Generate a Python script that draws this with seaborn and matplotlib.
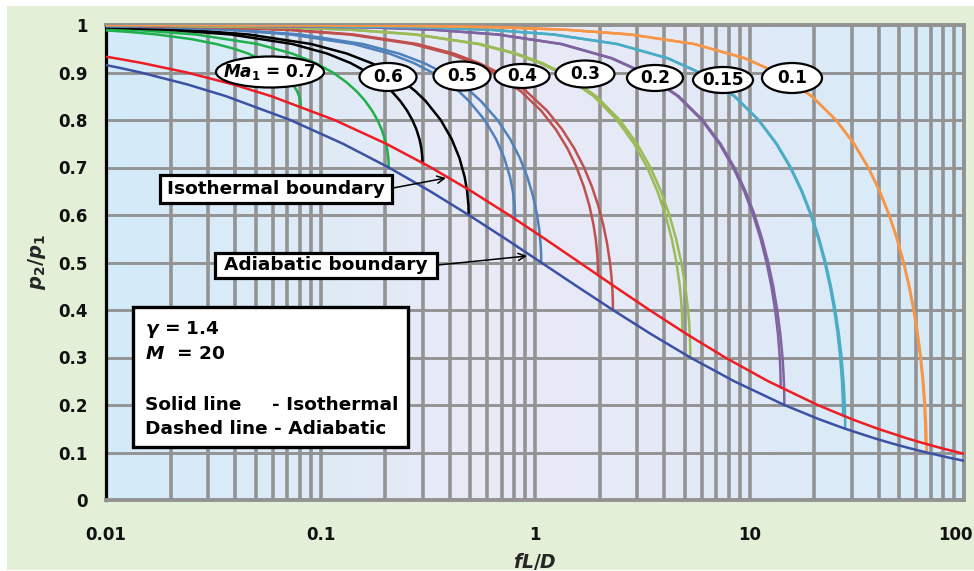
import numpy as np
import matplotlib
matplotlib.use("Agg")
import matplotlib.pyplot as plt
import matplotlib.transforms as mtransforms
import seaborn as sns
from matplotlib.patches import Ellipse, Rectangle
from matplotlib.ticker import LogLocator, NullFormatter
from matplotlib.colors import LinearSegmentedColormap

# ---------------- data ----------------
mach_labels = ["0.7", "0.6", "0.5", "0.4", "0.3", "0.2", "0.15", "0.1"]
curve_colors = ["#1fb04c", "#000000", "#4f81bd", "#c0504d", "#9bbb59", "#8064a2", "#4bacc6", "#f79646"]

iso_07_x = [0.00977, 0.01318, 0.01732, 0.02523, 0.03264, 0.03954, 0.04593, 0.05714, 0.06625, 0.07320, 0.07795, 0.07948, 0.08045, 0.08071, 0.08091]
iso_07_y = [0.989, 0.985, 0.98, 0.97, 0.96, 0.95, 0.94, 0.92, 0.90, 0.88, 0.86, 0.85, 0.84, 0.835, 0.828]
adi_07_x = [0.00672, 0.01333, 0.02624, 0.05079, 0.07363, 0.09474, 0.1141, 0.1317, 0.1476, 0.1616, 0.1738, 0.1842, 0.1928, 0.1995, 0.2043, 0.2072, 0.2081]
adi_07_y = [0.995, 0.99, 0.98, 0.96, 0.94, 0.92, 0.90, 0.88, 0.86, 0.84, 0.82, 0.80, 0.78, 0.76, 0.74, 0.72, 0.70]

iso_06_x = [0.00977, 0.01938, 0.03817, 0.07391, 0.1072, 0.1380, 0.1663, 0.1920, 0.2150, 0.2354, 0.2531, 0.2680, 0.2801, 0.2892, 0.2954, 0.2985, 0.2989]
iso_06_y = [0.995, 0.99, 0.98, 0.96, 0.94, 0.92, 0.90, 0.88, 0.86, 0.84, 0.82, 0.80, 0.78, 0.76, 0.74, 0.72, 0.71]
adi_06_x = [0.00943, 0.01178, 0.02342, 0.04631, 0.09046, 0.1324, 0.1722, 0.2098, 0.2451, 0.2781, 0.3089, 0.3635, 0.4087, 0.4443, 0.4700, 0.4826, 0.4895, 0.4908]
adi_06_y = [0.996, 0.995, 0.99, 0.98, 0.96, 0.94, 0.92, 0.90, 0.88, 0.86, 0.84, 0.80, 0.76, 0.72, 0.68, 0.65, 0.62, 0.60]

iso_05_x = [0.00926, 0.01848, 0.03676, 0.07274, 0.1424, 0.2088, 0.2721, 0.3321, 0.3889, 0.4424, 0.4924, 0.5823, 0.6580, 0.7190, 0.7647, 0.7884, 0.8028, 0.8069, 0.8073]
iso_05_y = [0.9975, 0.995, 0.99, 0.98, 0.96, 0.94, 0.92, 0.90, 0.88, 0.86, 0.84, 0.80, 0.76, 0.72, 0.68, 0.65, 0.62, 0.60, 0.5916]
adi_05_x = [0.00978, 0.02032, 0.04046, 0.08019, 0.1575, 0.2319, 0.3033, 0.3718, 0.4372, 0.4997, 0.5591, 0.6687, 0.7657, 0.8500, 0.9210, 0.9787, 1.0225, 1.0461, 1.0615, 1.0672, 1.0691]
adi_05_y = [0.9976, 0.995, 0.99, 0.98, 0.96, 0.94, 0.92, 0.90, 0.88, 0.86, 0.84, 0.80, 0.76, 0.72, 0.68, 0.64, 0.60, 0.57, 0.54, 0.52, 0.50]

iso_04_x = [0.00969, 0.01384, 0.03451, 0.06874, 0.1364, 0.2684, 0.3959, 0.5190, 0.6375, 0.8609, 1.0656, 1.2513, 1.4174, 1.5634, 1.6886, 1.7921, 1.8730, 1.9182, 1.9493, 1.9619, 1.9682]
iso_04_y = [0.9986, 0.998, 0.995, 0.99, 0.98, 0.96, 0.94, 0.92, 0.90, 0.86, 0.82, 0.78, 0.74, 0.70, 0.66, 0.62, 0.58, 0.55, 0.52, 0.50, 0.4733]
adi_04_x = [0.00980, 0.01451, 0.03621, 0.07215, 0.1432, 0.2823, 0.4171, 0.5476, 0.6738, 0.9133, 1.1351, 1.3392, 1.5251, 1.6926, 1.8411, 1.9703, 2.0796, 2.1684, 2.2362, 2.2727, 2.2967, 2.3056, 2.3085]
adi_04_y = [0.99865, 0.998, 0.995, 0.99, 0.98, 0.96, 0.94, 0.92, 0.90, 0.86, 0.82, 0.78, 0.74, 0.70, 0.66, 0.62, 0.58, 0.54, 0.50, 0.47, 0.44, 0.42, 0.40]

iso_03_x = [0.00998, 0.01386, 0.06914, 0.1378, 0.2739, 0.5406, 0.8001, 1.0523, 1.2972, 1.8773, 2.4109, 2.8969, 3.3343, 3.7218, 4.0577, 4.3400, 4.5661, 4.7324, 4.8016, 4.8462, 4.8615, 4.8650]
iso_03_y = [0.99928, 0.999, 0.995, 0.99, 0.98, 0.96, 0.94, 0.92, 0.90, 0.85, 0.80, 0.75, 0.70, 0.65, 0.60, 0.55, 0.50, 0.45, 0.42, 0.39, 0.37, 0.355]
adi_03_x = [0.00993, 0.01418, 0.07073, 0.1410, 0.2803, 0.5535, 0.8197, 1.0789, 1.3309, 1.9296, 2.4831, 2.9908, 3.4518, 3.8653, 4.2302, 4.5451, 4.8084, 5.0182, 5.1720, 5.2361, 5.2784, 5.2940, 5.2993]
adi_03_y = [0.9993, 0.999, 0.995, 0.99, 0.98, 0.96, 0.94, 0.92, 0.90, 0.85, 0.80, 0.75, 0.70, 0.65, 0.60, 0.55, 0.50, 0.45, 0.40, 0.37, 0.34, 0.32, 0.30]

iso_02_x = [0.00674, 0.01011, 0.03370, 0.1681, 0.3353, 0.6667, 1.3184, 2.2674, 3.1821, 4.6303, 5.9823, 7.2371, 8.3938, 9.4509, 10.407, 11.260, 12.007, 12.644, 13.167, 13.570, 13.842, 13.937, 13.968, 13.975]
iso_02_y = [0.9998, 0.9997, 0.999, 0.995, 0.99, 0.98, 0.96, 0.93, 0.90, 0.85, 0.80, 0.75, 0.70, 0.65, 0.60, 0.55, 0.50, 0.45, 0.40, 0.35, 0.30, 0.27, 0.25, 0.2366]
adi_02_x = [0.00680, 0.01020, 0.03400, 0.1696, 0.3383, 0.6728, 1.3306, 2.2892, 3.2138, 4.6794, 6.0499, 7.3246, 8.5028, 9.5833, 10.565, 11.446, 12.225, 12.899, 13.464, 13.917, 14.252, 14.393, 14.487, 14.522, 14.533]
adi_02_y = [0.9998, 0.9997, 0.999, 0.995, 0.99, 0.98, 0.96, 0.93, 0.90, 0.85, 0.80, 0.75, 0.70, 0.65, 0.60, 0.55, 0.50, 0.45, 0.40, 0.35, 0.30, 0.27, 0.24, 0.22, 0.20]

iso_015_x = [0.00615, 0.01230, 0.06146, 0.3066, 0.6116, 1.2167, 2.4072, 4.1437, 5.8210, 8.4845, 10.982, 13.314, 15.477, 17.472, 19.296, 20.947, 22.423, 23.720, 24.834, 25.757, 26.481, 26.989, 27.181, 27.257, 27.288]
iso_015_y = [0.9999, 0.9998, 0.999, 0.995, 0.99, 0.98, 0.96, 0.93, 0.90, 0.85, 0.80, 0.75, 0.70, 0.65, 0.60, 0.55, 0.50, 0.45, 0.40, 0.35, 0.30, 0.25, 0.22, 0.20, 0.1775]
adi_015_x = [0.00618, 0.01236, 0.06175, 0.3081, 0.6146, 1.2227, 2.4192, 4.1651, 5.8520, 8.5324, 11.048, 13.399, 15.583, 17.600, 19.449, 21.127, 22.633, 23.964, 25.116, 26.085, 26.863, 27.441, 27.686, 27.805, 27.885, 27.920, 27.932]
adi_015_y = [0.9999, 0.9998, 0.999, 0.995, 0.99, 0.98, 0.96, 0.93, 0.90, 0.85, 0.80, 0.75, 0.70, 0.65, 0.60, 0.55, 0.50, 0.45, 0.40, 0.35, 0.30, 0.25, 0.22, 0.20, 0.18, 0.165, 0.15]

iso_01_x = [0.00704, 0.01409, 0.07041, 0.2814, 0.7025, 1.4013, 2.7882, 5.5184, 9.5049, 13.361, 19.496, 25.268, 30.675, 35.715, 40.388, 44.693, 48.626, 52.185, 55.367, 58.167, 60.579, 62.592, 64.192, 65.353, 65.935, 66.096, 66.160]
iso_01_y = [0.99995, 0.9999, 0.9995, 0.998, 0.995, 0.99, 0.98, 0.96, 0.93, 0.90, 0.85, 0.80, 0.75, 0.70, 0.65, 0.60, 0.55, 0.50, 0.45, 0.40, 0.35, 0.30, 0.25, 0.20, 0.16, 0.14, 0.1183]
adi_01_x = [0.00706, 0.01411, 0.07055, 0.2820, 0.7039, 1.4042, 2.7940, 5.5302, 9.5259, 13.391, 19.543, 25.333, 30.758, 35.819, 40.514, 44.842, 48.801, 52.388, 55.602, 58.438, 60.891, 62.953, 64.613, 65.853, 66.521, 66.818, 66.895, 66.922]
adi_01_y = [0.99995, 0.9999, 0.9995, 0.998, 0.995, 0.99, 0.98, 0.96, 0.93, 0.90, 0.85, 0.80, 0.75, 0.70, 0.65, 0.60, 0.55, 0.50, 0.45, 0.40, 0.35, 0.30, 0.25, 0.20, 0.16, 0.13, 0.115, 0.10]

iso_bound_x = [0.009453, 0.011062, 0.014711, 0.023847, 0.039059, 0.059045, 0.116213, 0.202414, 0.327466, 0.505298, 0.756127, 1.110111, 1.613706, 2.341257, 3.417419, 5.063621, 7.703165, 12.227411, 20.781124, 30.058162, 39.650204, 54.091156, 64.203917, 77.230079, 94.39483, 105.095634]
iso_bound_y = [0.935, 0.93, 0.92, 0.9, 0.875, 0.85, 0.8, 0.75, 0.7, 0.65, 0.6, 0.55, 0.5, 0.45, 0.4, 0.35, 0.3, 0.25, 0.2, 0.17, 0.15, 0.13, 0.12, 0.11, 0.1, 0.095]
adi_bound_x = [0.008912, 0.011513, 0.01451, 0.023899, 0.036334, 0.07229, 0.127285, 0.20814, 0.324614, 0.49082, 0.728061, 1.06906, 1.566414, 2.30849, 3.452461, 5.29925, 8.483409, 14.53327, 21.11516, 27.93197, 38.207062, 45.408029, 54.687895, 66.92156, 83.496165, 94.078006, 106.7183]
adi_bound_y = [0.92, 0.91, 0.9, 0.875, 0.85, 0.8, 0.75, 0.7, 0.65, 0.6, 0.55, 0.5, 0.45, 0.4, 0.35, 0.3, 0.25, 0.2, 0.17, 0.15, 0.13, 0.12, 0.11, 0.1, 0.09, 0.085, 0.08]

x_tick_values = [0.01, 0.1, 1, 10, 100]
x_tick_labels = ["0.01", "0.1", "1", "10", "100"]
y_tick_values = [0, 0.1, 0.2, 0.3, 0.4, 0.5, 0.6, 0.7, 0.8, 0.9, 1.0]
y_tick_labels = ["0", "0.1", "0.2", "0.3", "0.4", "0.5", "0.6", "0.7", "0.8", "0.9", "1"]

iso_curves = [(iso_07_x, iso_07_y), (iso_06_x, iso_06_y), (iso_05_x, iso_05_y), (iso_04_x, iso_04_y),
              (iso_03_x, iso_03_y), (iso_02_x, iso_02_y), (iso_015_x, iso_015_y), (iso_01_x, iso_01_y)]
adi_curves = [(adi_07_x, adi_07_y), (adi_06_x, adi_06_y), (adi_05_x, adi_05_y), (adi_04_x, adi_04_y),
              (adi_03_x, adi_03_y), (adi_02_x, adi_02_y), (adi_015_x, adi_015_y), (adi_01_x, adi_01_y)]

# ---------------- styling ----------------
sns.set_theme(style="white")
plt.rcParams['font.family'] = ['DejaVu Sans']
plt.rcParams['mathtext.fontset'] = 'custom'
plt.rcParams['mathtext.it'] = 'DejaVu Sans:italic:bold'
plt.rcParams['mathtext.rm'] = 'DejaVu Sans:bold'
plt.rcParams['mathtext.bf'] = 'DejaVu Sans:bold'

W, H = 974, 571
fig = plt.figure(figsize=(W / 100, H / 100), dpi=100, facecolor='white')
fig.patches.append(Rectangle((7 / W, 1 / H), 1 - 7 / W, 1 - 7 / H, transform=fig.transFigure,
                             facecolor='#e3efd6', edgecolor='none', zorder=-10))
ax = fig.add_axes([106 / W, 71 / H, 858 / W, 475 / H])

# background gradient of the plotting area
bg_cmap = LinearSegmentedColormap.from_list(
    'bg', [(0.0, '#d3ebf9'), (0.45, '#e9eaf6'), (0.62, '#e6e9f6'), (1.0, '#d5ebf9')])
ax.imshow(np.linspace(0, 1, 256).reshape(1, -1), cmap=bg_cmap, aspect='auto',
          extent=[0, 1, 0, 1], transform=ax.transAxes, zorder=-1, interpolation='bilinear')

ax.set_xscale('log')

lw_curve = 1.8
for (xi, yi), (xa, ya), col in zip(iso_curves, adi_curves, curve_colors):
    sns.lineplot(x=xi, y=yi, ax=ax, color=col, lw=lw_curve, sort=False, estimator=None, zorder=3)
    sns.lineplot(x=xa, y=ya, ax=ax, color=col, lw=lw_curve, sort=False, estimator=None, zorder=3)

sns.lineplot(x=adi_bound_x, y=adi_bound_y, ax=ax, color='#3b52a4', lw=1.8, sort=False, estimator=None, zorder=4)
sns.lineplot(x=iso_bound_x, y=iso_bound_y, ax=ax, color='#ee1d23', lw=1.8, sort=False, estimator=None, zorder=4)

ax.set_xlim(0.01, 100)
ax.set_ylim(0, 1)
ax.set_xlabel('')
ax.set_ylabel('')

ax.set_xticks(x_tick_values)
ax.set_xticklabels(x_tick_labels)
ax.xaxis.set_minor_locator(LogLocator(base=10, subs=np.arange(2, 10)))
ax.xaxis.set_minor_formatter(NullFormatter())
ax.set_yticks(y_tick_values)
ax.set_yticklabels(y_tick_labels)

grid_col = '#939393'
ax.set_axisbelow(True)
ax.grid(which='both', axis='x', color=grid_col, lw=2.6)
ax.grid(which='major', axis='y', color=grid_col, lw=2.1)
ax.tick_params(which='both', length=0)
ax.tick_params(axis='x', pad=19, labelsize=12, labelcolor='#111111')
ax.tick_params(axis='y', pad=13, labelsize=12, labelcolor='#111111')
for lab in ax.get_xticklabels() + ax.get_yticklabels():
    lab.set_fontweight('bold')
# keep the last x label ("100") inside the picture
last_lab = ax.get_xticklabels()[-1]
last_lab.set_transform(last_lab.get_transform() +
                       mtransforms.ScaledTranslation(-0.09, 0, fig.dpi_scale_trans))

for side in ['top', 'right', 'bottom']:
    ax.spines[side].set_color(grid_col)
    ax.spines[side].set_linewidth(2.8)
ax.spines['left'].set_color('black')
ax.spines['left'].set_linewidth(2.3)

# axis titles
fig.text(37 / W, 1 - 262 / H, r'$p_2/p_1$', rotation=90, ha='center', va='center', fontsize=14)
fig.text(535 / W, 1 - 561 / H, r'$fL/D$', ha='center', va='center', fontsize=13.5)


def axpos(px, py):
    return ((px - 106) / 858, (500 - py) / 475)


# Mach number ellipses: (label, center px, width px, height px)
ellipse_specs = [
    (r'$Ma_1$ = 0.7', (270, 72), 108, 31),
    ('0.6', (388, 77), 57, 28),
    ('0.5', (462, 76), 57, 29),
    ('0.4', (522, 76), 55, 24),
    ('0.3', (585, 74), 59, 27),
    ('0.2', (655, 78), 56, 26),
    ('0.15', (723, 80), 60, 26),
    ('0.1', (792, 78), 60, 30),
]
for txt, (cx, cy), ew, eh in ellipse_specs:
    c = axpos(cx, cy)
    ax.add_patch(Ellipse(c, ew / 858, eh / 475, transform=ax.transAxes, facecolor='white',
                         edgecolor='black', lw=1.6, zorder=7, clip_on=False))
    ax.text(c[0], c[1], txt, transform=ax.transAxes, ha='center', va='center',
            fontsize=12.2, fontweight='bold', color='black', zorder=8)

# boundary labels with arrows
def boxed_label(txt, x0, y0, x1, y1):
    a = axpos(x0, y1)
    ax.add_patch(Rectangle(a, (x1 - x0) / 858, (y1 - y0) / 475, transform=ax.transAxes,
                           facecolor='white', edgecolor='black', lw=2.3, zorder=7))
    c = axpos((x0 + x1) / 2, (y0 + y1) / 2)
    ax.text(c[0], c[1], txt, transform=ax.transAxes, ha='center', va='center',
            fontsize=13.3, fontweight='bold', color='black', zorder=8)


boxed_label('Isothermal boundary', 160, 175, 392, 203)
boxed_label('Adiabatic boundary', 215, 253, 437, 278)
ax.annotate('', xy=axpos(446, 178), xytext=axpos(393, 188), xycoords='axes fraction',
            arrowprops=dict(arrowstyle='->', color='black', lw=1.1, shrinkA=0, shrinkB=0,
                            mutation_scale=13), zorder=8)
ax.annotate('', xy=axpos(527, 256), xytext=axpos(438, 265), xycoords='axes fraction',
            arrowprops=dict(arrowstyle='->', color='black', lw=1.1, shrinkA=0, shrinkB=0,
                            mutation_scale=13), zorder=8)

# info box
ib = axpos(133, 447)
ax.add_patch(Rectangle(ib, (408 - 133) / 858, (447 - 307) / 475, transform=ax.transAxes,
                       facecolor='white', edgecolor='black', lw=2.4, zorder=7))
info_lines = [
    (r'$\gamma$ = 1.4', 145, 330),
    (r'$M$  = 20', 145, 354),
    ('Solid line', 145, 405),
    ('- Isothermal', 272, 405),
    ('Dashed line - Adiabatic', 145, 429),
]
for txt, px, py in info_lines:
    p = axpos(px, py)
    ax.text(p[0], p[1], txt, transform=ax.transAxes, ha='left', va='center',
            fontsize=13.3, fontweight='bold', color='black', zorder=8)

fig.savefig('out.png', dpi=100, facecolor=fig.get_facecolor())
